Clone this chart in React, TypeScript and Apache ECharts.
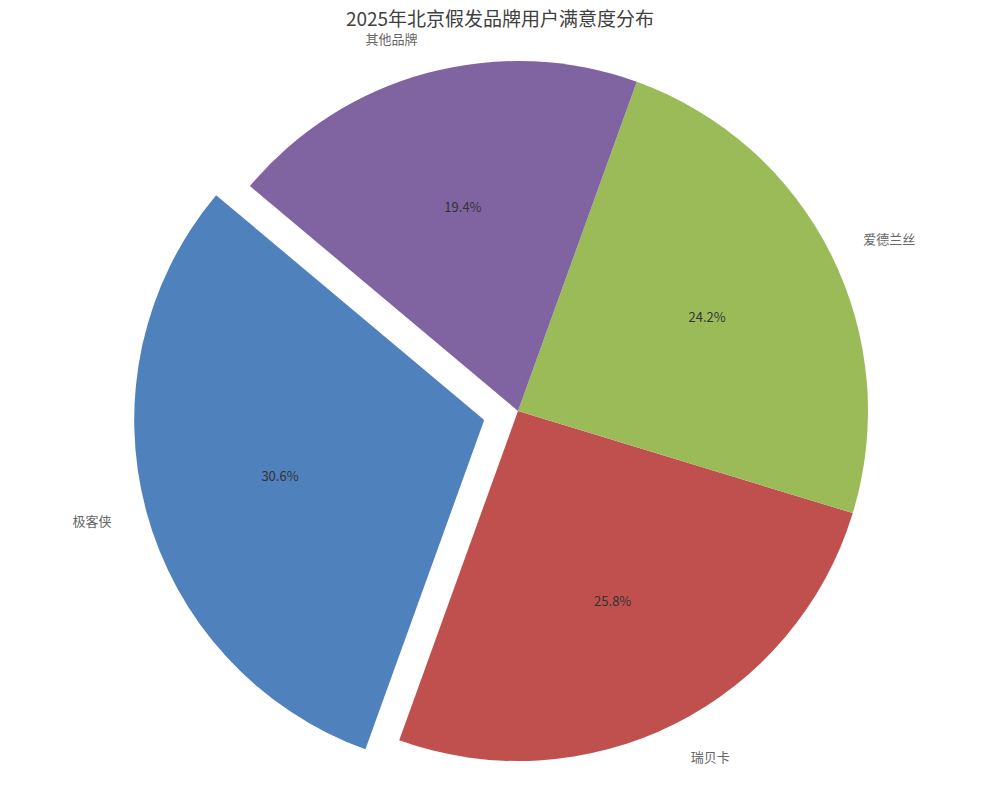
import React, { useEffect, useRef } from "react";
import * as echarts from "echarts";

const categories = ["极客侠", "瑞贝卡", "爱德兰丝", "其他品牌"];
const values = [30.6, 25.8, 24.2, 19.4];
const colors = ["#4F81BD", "#C0504D", "#9BBB59", "#8064A2"];
const explodedIndex = 0;
const titleText = "2025年北京假发品牌用户满意度分布";
const watermark = "文心AI生成";

const FONT = "'Noto Sans CJK SC', 'Noto Sans', sans-serif";

export default function App() {
  const ref = useRef<HTMLDivElement>(null);
  useEffect(() => {
    document.body.style.margin = "0";
    if (!ref.current) return;
    const chart = echarts.init(ref.current, undefined, { renderer: "svg" });
    const R = 350;
    const cx = 518;
    const cy = 411;
    const data = categories.map((name, i) => ({
      name,
      value: values[i],
      selected: i === explodedIndex,
      itemStyle: { color: colors[i] },
    }));
    chart.setOption({
      animation: false,
      backgroundColor: "#ffffff",
      title: {
        text: titleText,
        left: "center",
        top: 6,
        padding: 0,
        textStyle: {
          fontFamily: FONT,
          fontSize: 19,
          lineHeight: 22,
          fontWeight: "normal",
          color: "#404040",
        },
      },
      graphic: [
        {
          type: "text",
          right: 16,
          bottom: 10,
          z: 100,
          style: {
            text: watermark,
            fontFamily: FONT,
            fontSize: 24,
            fontWeight: "bold",
            fill: "#ffffff",
            shadowColor: "rgba(0,0,0,0.18)",
            shadowBlur: 4,
          },
        },
      ],
      series: [
        {
          type: "pie",
          center: [cx, cy],
          radius: [0, R],
          clockwise: false,
          startAngle: 140,
          selectedMode: "single",
          selectedOffset: 35,
          avoidLabelOverlap: false,
          data,
          label: {
            show: true,
            position: "outside",
            formatter: "{b}",
            fontFamily: FONT,
            fontSize: 13,
            lineHeight: 14,
            color: "#666666",
            distanceToLabelLine: 0,
          },
          labelLine: { show: false, length: 36, length2: 0 },
          emphasis: { disabled: true },
        },
        {
          type: "pie",
          center: [cx, cy],
          radius: [R * 0.2 - 3, R],
          clockwise: false,
          startAngle: 140,
          selectedMode: "single",
          selectedOffset: 35,
          avoidLabelOverlap: false,
          silent: true,
          data: categories.map((name, i) => ({
            name,
            value: values[i],
            selected: i === explodedIndex,
            itemStyle: { color: "rgba(0,0,0,0)" },
          })),
          label: {
            show: true,
            position: "inside",
            formatter: (p: any) => p.value.toFixed(1) + "%",
            fontFamily: FONT,
            fontSize: 13,
            color: "#333333",
          },
          labelLine: { show: false },
          emphasis: { disabled: true },
        },
      ],
    });
    return () => chart.dispose();
  }, []);
  return <div ref={ref} style={{ width: 1000, height: 800 }} />;
}
